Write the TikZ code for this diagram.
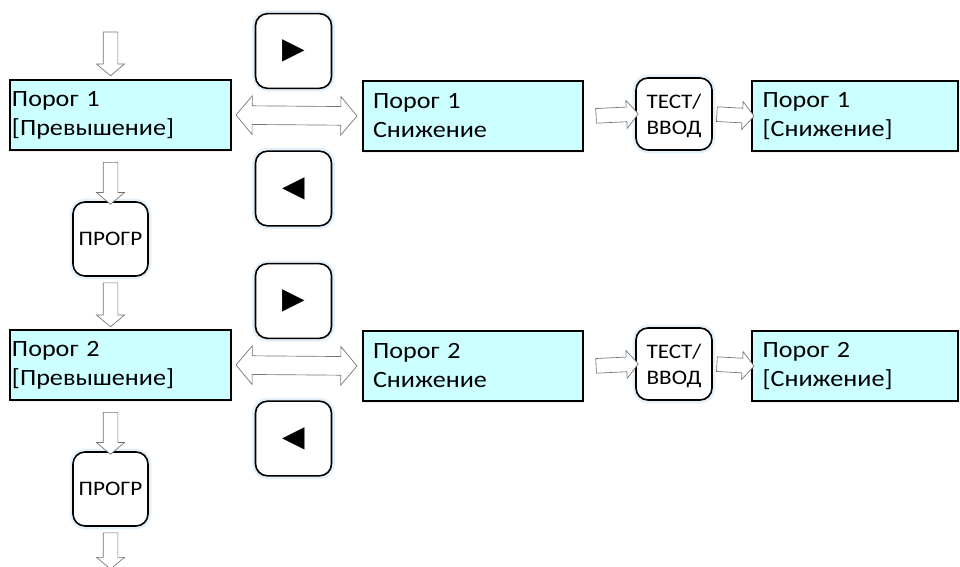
\documentclass[tikz,border=0pt]{standalone}
\usepackage{fontspec}
\setmainfont{Carlito}[FakeStretch=1.12]
\newfontfamily\symfont{DejaVu Sans}
\usetikzlibrary{shapes.arrows,calc,shadows}

\definecolor{lcdcyan}{RGB}{204,255,255}
\definecolor{glow}{RGB}{228,240,250}

\tikzset{
  lcd/.style={draw, line width=1.5pt, fill=lcdcyan, align=left, inner ysep=0pt,
    minimum height=53pt, font=\fontsize{17.5}{21.75}\selectfont,
    drop shadow={shadow xshift=0.75pt, shadow yshift=-1.5pt, opacity=0.12}},
  key/.style={draw, line width=1.2pt, rounded corners=9pt, fill=white, inner sep=0pt,
    minimum width=57pt, minimum height=56pt, align=center,
    preaction={draw=glow, line width=5pt}},
  blk/.style={single arrow, draw=black!55, fill=white, line width=0.5pt, inner xsep=0pt,
    inner ysep=5.25pt, single arrow head extend=5pt, single arrow tip angle=100},
  flow/.style={to path={let \p1=($(\tikztotarget)-(\tikztostart)$), \n1={veclen(\x1,\y1)} in
    (\tikztostart) -- (\tikztotarget) node[midway, sloped, blk, minimum height=\n1, #1] {}}},
  flow/.default={},
  both/.style={to path={let \p1=($(\tikztotarget)-(\tikztostart)$), \n1={veclen(\x1,\y1)} in
    (\tikztostart) -- (\tikztotarget) node[midway, sloped, double arrow, draw=black!55,
    fill=white, line width=0.5pt, inner xsep=0pt, inner ysep=6.75pt,
    double arrow head extend=7.5pt, double arrow tip angle=100, minimum height=\n1] {}}},
}

\begin{document}
\begin{tikzpicture}[x=0.75pt, y=-0.75pt]
\useasboundingbox (0,0) rectangle (960,567);
% row 1
\node[lcd, text width=162.75pt, inner xsep=1.5pt] (A1) at (120.5,115) {Порог 1\\{}[Превышение]};
\node[lcd, text width=150pt, inner xsep=7.5pt] (B1) at (473,116) {Порог 1\\Снижение};
\node[lcd, text width=138.5pt, inner xsep=8pt] (C1) at (855,116) {Порог 1\\{}[Снижение]};
\node[key, minimum height=54pt, text depth=0pt, font=\fontsize{15.5}{19.5}\selectfont] (T1) at (674,114) {ТЕСТ/\\ВВОД};
\node[key, font=\symfont\fontsize{22}{22}\selectfont] (R1) at (293.5,51) {▶};
\node[key, font=\symfont\fontsize{22}{22}\selectfont] (L1) at (293.5,188.5) {◀};
\node[key, minimum width=56.25pt, minimum height=55.5pt, font=\fontsize{15.5}{16}\selectfont] (P1) at (110.5,239) {ПРОГР};
% row 2
\node[lcd, text width=162.75pt, inner xsep=1.5pt] (A2) at (120.5,365) {Порог 2\\{}[Превышение]};
\node[lcd, text width=150pt, inner xsep=7.5pt] (B2) at (473,366) {Порог 2\\Снижение};
\node[lcd, text width=138.5pt, inner xsep=8pt] (C2) at (855,366) {Порог 2\\{}[Снижение]};
\node[key, minimum height=54pt, text depth=0pt, font=\fontsize{15.5}{19.5}\selectfont] (T2) at (674,364) {ТЕСТ/\\ВВОД};
\node[key, font=\symfont\fontsize{22}{22}\selectfont] (R2) at (293.5,301) {▶};
\node[key, font=\symfont\fontsize{22}{22}\selectfont] (L2) at (293.5,438.5) {◀};
\node[key, minimum width=56.25pt, minimum height=55.5pt, font=\fontsize{15.5}{16}\selectfont] (P2) at (110.5,489) {ПРОГР};
\coordinate (in) at (110.5,29);
\coordinate (out) at (110.5,566);
% arrows
\path[flow] (in) to ([yshift=4.5pt]in |- A1.north);
\path[flow] ([yshift=-6pt]P1.north |- A1.south) to (P1.north);
\path[flow] ([yshift=-2.25pt]P1.south) to ([yshift=3.75pt]P1.south |- A2.north);
\path[flow] ([yshift=-6pt]P2.north |- A2.south) to (P2.north);
\path[flow] ([yshift=-2.25pt]P2.south) to (out);
\path[both] ([xshift=3pt]A1.east) to ([xshift=-3.75pt]B1.west);
\path[both] ([xshift=3pt]A2.east) to ([xshift=-3.75pt]B2.west);
\path[flow] ([xshift=6.75pt]B1.east) to (T1.west);
\path[flow] ([xshift=6.75pt]B2.east) to (T2.west);
\path[flow] ([xshift=0.75pt]T1.east) to (C1.west);
\path[flow] ([xshift=0.75pt]T2.east) to (C2.west);
\end{tikzpicture}
\end{document}
